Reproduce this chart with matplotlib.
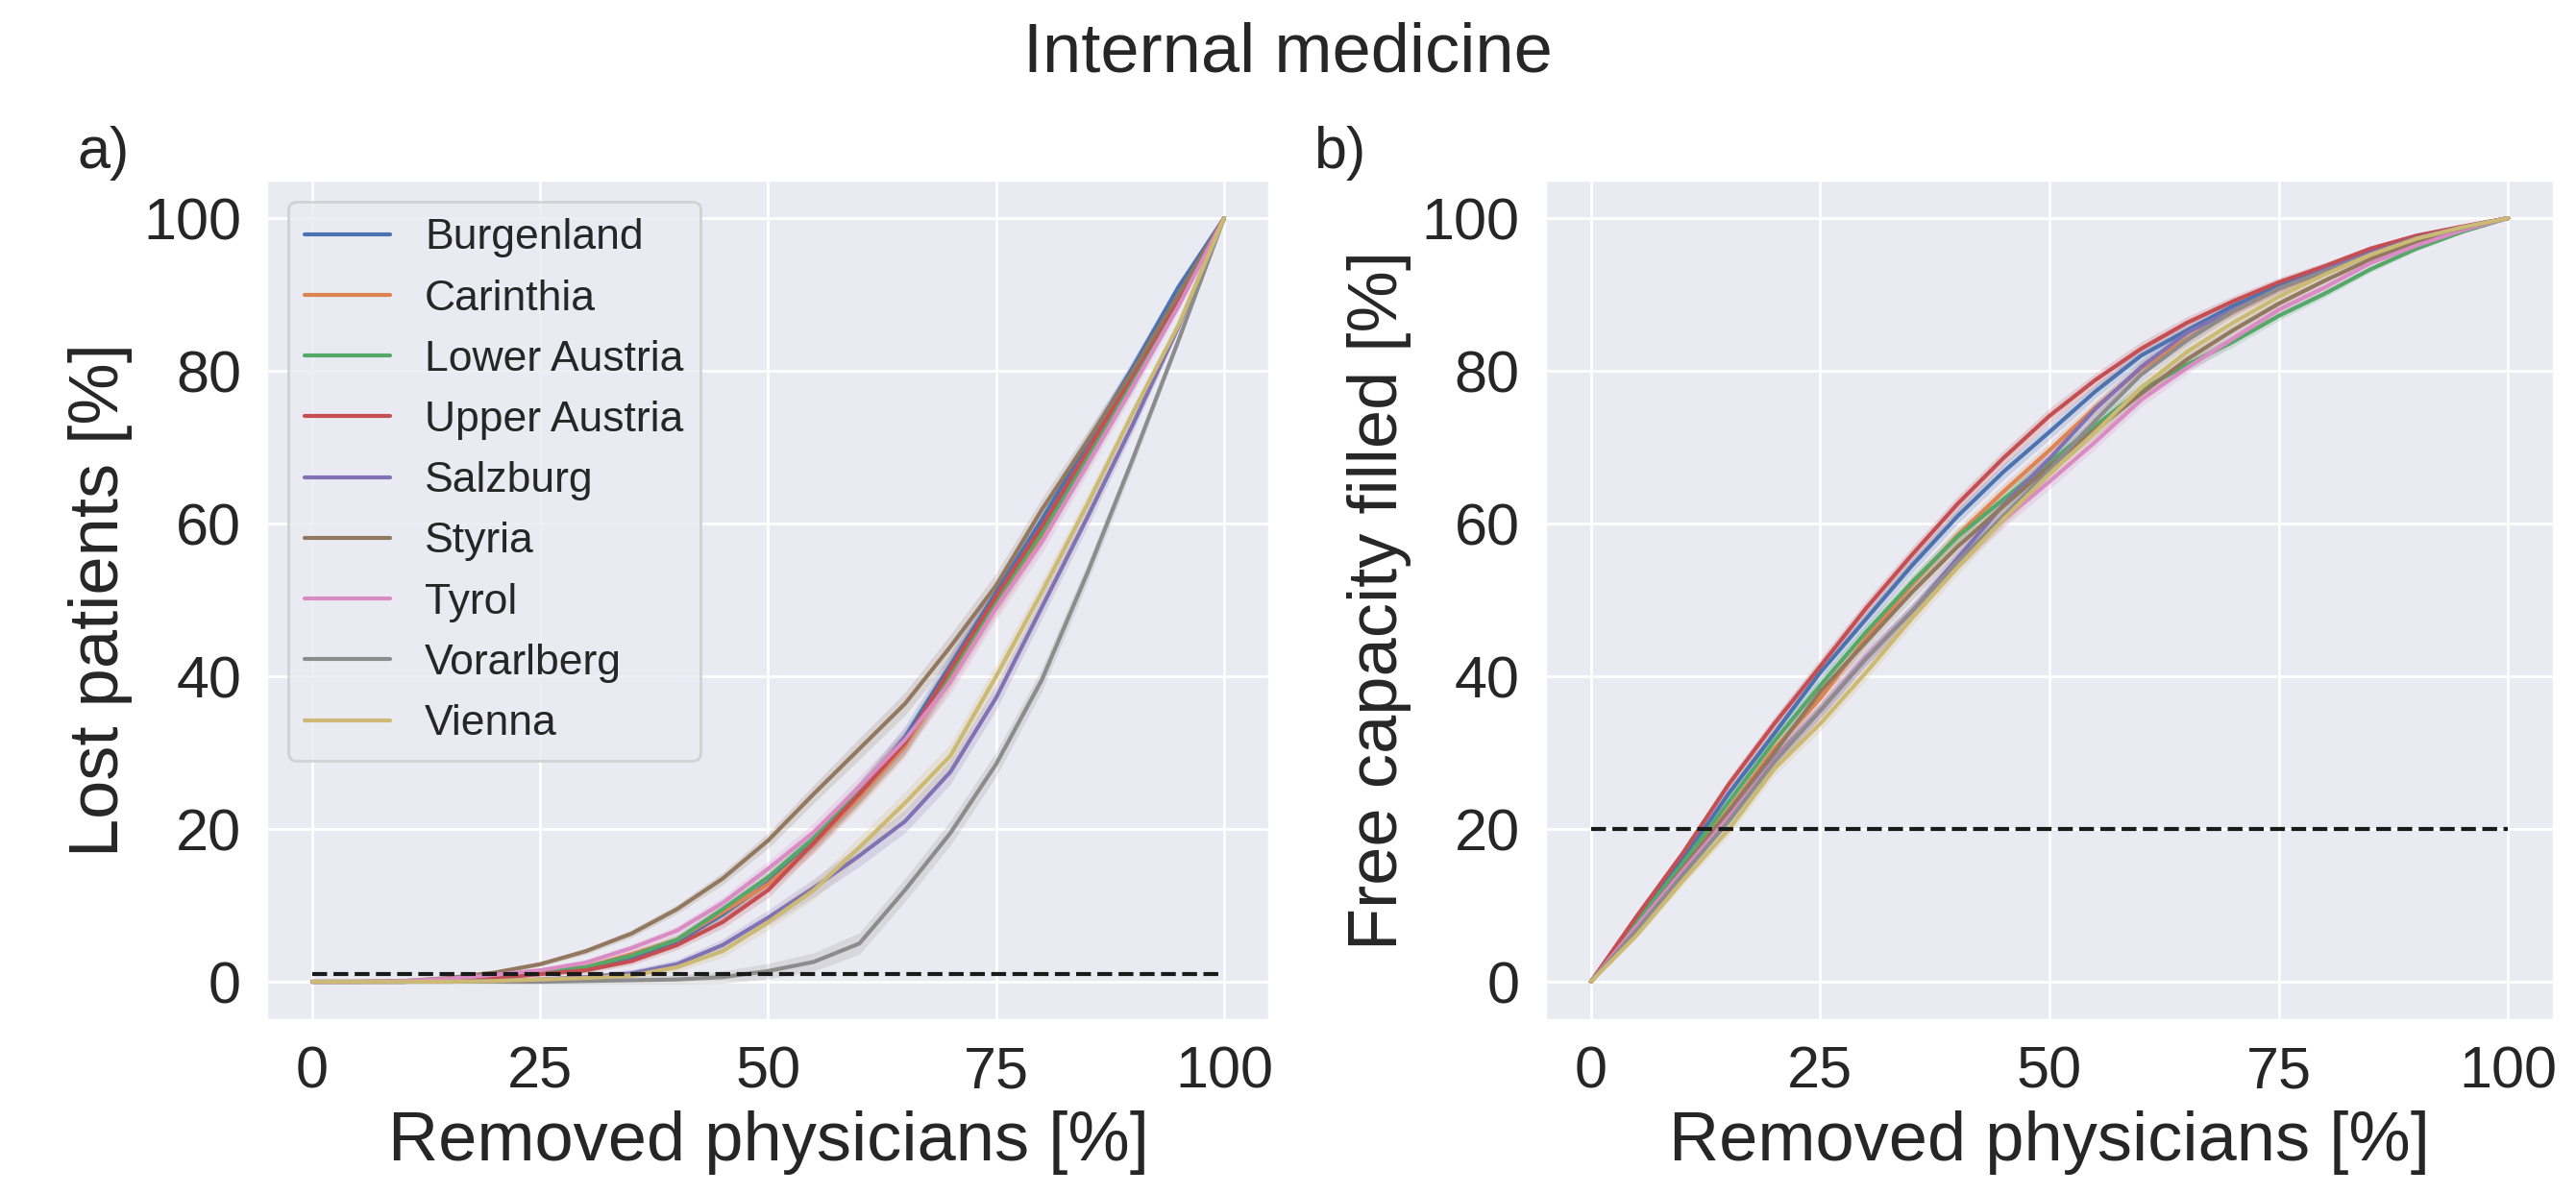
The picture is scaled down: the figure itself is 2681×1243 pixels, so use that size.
import numpy as np
import matplotlib
matplotlib.use("Agg")
import matplotlib.pyplot as plt
import seaborn as sns

# share of removed physicians [%]
removed = [0, 5, 10, 15, 20, 25, 30, 35, 40, 45, 50, 55, 60, 65, 70, 75, 80, 85, 90, 95, 100]

regions = ['Burgenland', 'Carinthia', 'Lower Austria', 'Upper Austria', 'Salzburg',
           'Styria', 'Tyrol', 'Vorarlberg', 'Vienna']

# a) lost patients [%]
lost_burgenland = [0, 0, 0, 0.2, 0.5, 1.1, 1.8, 3.2, 5.2, 8.8, 13.0, 18.5, 24.8, 32.0, 41.5, 51.0, 60.5, 70.5, 80.5, 91.0, 100]
lost_carinthia = [0, 0, 0, 0.2, 0.6, 1.3, 1.9, 3.6, 5.5, 9.1, 12.8, 18.0, 24.2, 30.9, 40.0, 49.5, 58.5, 68.5, 78.5, 89.0, 100]
lost_lower_austria = [0, 0, 0, 0.2, 0.5, 1.2, 1.9, 3.4, 5.5, 9.5, 13.7, 18.8, 24.8, 31.3, 40.5, 50.0, 58.8, 68.5, 78.5, 89.0, 100]
lost_upper_austria = [0, 0, 0, 0.2, 0.5, 1.0, 1.5, 2.7, 4.8, 7.8, 12.0, 18.2, 24.6, 31.3, 41.0, 50.5, 59.6, 69.5, 79.5, 89.5, 100]
lost_salzburg = [0, 0, 0, 0, 0.1, 0.3, 0.6, 1.1, 2.3, 4.8, 8.4, 12.3, 16.5, 21.0, 27.5, 37.2, 49.0, 60.8, 73.0, 85.8, 100]
lost_styria = [0, 0, 0.1, 0.5, 1.2, 2.3, 4.0, 6.3, 9.5, 13.5, 18.5, 24.6, 30.5, 36.4, 43.9, 51.9, 61.8, 70.8, 80.0, 90.0, 100]
lost_tyrol = [0, 0, 0.1, 0.4, 0.9, 1.5, 2.5, 4.4, 6.7, 10.3, 14.8, 19.6, 25.5, 31.7, 39.3, 49.0, 57.6, 67.8, 78.0, 88.5, 100]
lost_vorarlberg = [0, 0, 0, 0, 0, 0, 0.1, 0.2, 0.3, 0.6, 1.4, 2.6, 5.0, 12.0, 19.5, 28.5, 39.5, 53.5, 68.5, 84.0, 100]
lost_vienna = [0, 0, 0, 0, 0.1, 0.3, 0.5, 0.8, 1.9, 4.0, 7.8, 12.0, 17.6, 23.4, 29.6, 40.0, 51.0, 62.5, 74.5, 86.0, 100]
lost_ci = [0, 0, 0, 0.1, 0.2, 0.3, 0.4, 0.5, 0.6, 0.8, 1.0, 1.2, 1.4, 1.5, 1.6, 1.6, 1.5, 1.3, 1.0, 0.6, 0]
lost_threshold = 1

# b) free capacity filled [%]
cap_burgenland = [0, 8.2, 16.0, 24.6, 32.5, 40.5, 47.5, 54.5, 61.0, 66.8, 72.0, 77.3, 82.0, 85.3, 88.5, 91.1, 93.4, 95.6, 97.5, 98.8, 100]
cap_carinthia = [0, 7.5, 15.0, 22.5, 30.5, 37.1, 45.0, 52.0, 58.5, 64.2, 69.6, 75.2, 80.3, 84.2, 87.7, 90.7, 93.0, 95.2, 97.3, 98.7, 100]
cap_lower_austria = [0, 7.8, 15.5, 23.5, 31.5, 38.8, 45.8, 52.3, 58.3, 63.2, 68.0, 72.8, 77.5, 80.8, 83.8, 87.2, 90.1, 93.3, 96.0, 98.2, 100]
cap_upper_austria = [0, 8.6, 16.8, 25.8, 33.8, 41.3, 48.9, 55.9, 62.6, 68.6, 74.1, 78.8, 82.9, 86.3, 89.1, 91.6, 93.7, 96.0, 97.7, 98.9, 100]
cap_salzburg = [0, 7.0, 14.2, 21.5, 29.2, 35.5, 42.5, 48.5, 55.5, 62.5, 68.5, 75.0, 80.5, 85.0, 88.0, 90.8, 93.2, 95.4, 97.4, 98.8, 100]
cap_styria = [0, 7.2, 14.8, 22.3, 30.0, 38.0, 44.5, 51.0, 57.0, 62.3, 67.5, 72.3, 77.0, 81.5, 85.3, 88.8, 91.8, 94.6, 96.9, 98.6, 100]
cap_tyrol = [0, 7.3, 14.5, 21.5, 29.0, 35.5, 42.5, 48.5, 55.0, 60.5, 65.5, 70.7, 76.2, 80.4, 84.2, 88.0, 90.9, 94.1, 96.4, 98.4, 100]
cap_vorarlberg = [0, 6.8, 14.0, 21.0, 28.8, 35.5, 42.3, 48.5, 55.0, 61.0, 67.0, 73.5, 79.5, 84.0, 87.8, 90.8, 93.0, 95.2, 97.3, 98.7, 100]
cap_vienna = [0, 6.1, 13.2, 19.9, 27.9, 33.8, 40.5, 47.6, 54.3, 60.6, 66.5, 72.0, 77.8, 82.5, 86.3, 89.7, 92.6, 95.2, 97.3, 98.8, 100]
cap_ci = [0, 0.4, 0.6, 0.8, 0.9, 1.0, 1.0, 1.0, 1.0, 1.0, 1.0, 0.9, 0.9, 0.8, 0.7, 0.6, 0.5, 0.4, 0.3, 0.2, 0]
cap_threshold = 20

lost = [lost_burgenland, lost_carinthia, lost_lower_austria, lost_upper_austria, lost_salzburg,
        lost_styria, lost_tyrol, lost_vorarlberg, lost_vienna]
cap = [cap_burgenland, cap_carinthia, cap_lower_austria, cap_upper_austria, cap_salzburg,
       cap_styria, cap_tyrol, cap_vorarlberg, cap_vienna]

sns.set_theme(style='darkgrid')
plt.rcParams['font.family'] = ['Liberation Sans', 'DejaVu Sans']
colors = sns.color_palette('deep', len(regions))

fig = plt.figure(figsize=(13.405, 6.215), dpi=200)
ax_a = fig.add_axes([0.1035, 0.1458, 0.3894, 0.7035])
ax_b = fig.add_axes([0.5998, 0.1458, 0.3916, 0.7035])


def draw_panel(ax, series, ci, threshold, ylabel):
    x = np.array(removed)
    band = np.array(ci)
    for name, values, col in zip(regions, series, colors):
        y = np.array(values)
        ax.fill_between(x, y - band, y + band, color=col, alpha=0.2, linewidth=0)
        ax.plot(x, y, color=col, lw=1.5, label=name)
    ax.plot([0, 100], [threshold, threshold], 'k--', lw=1.5)
    ax.set_xlim(-5, 105)
    ax.set_ylim(-5, 105)
    ax.set_xticks([0, 25, 50, 75, 100])
    ax.set_yticks([0, 20, 40, 60, 80, 100])
    ax.tick_params(labelsize=22)
    ax.set_xlabel('Removed physicians [%]', fontsize=26)
    ax.set_ylabel(ylabel, fontsize=26)


draw_panel(ax_a, lost, lost_ci, lost_threshold, 'Lost patients [%]')
draw_panel(ax_b, cap, cap_ci, cap_threshold, 'Free capacity filled [%]')
ax_a.legend(loc='upper left', fontsize=16)

fig.text(0.5, 0.94, 'Internal medicine', ha='center', va='baseline', fontsize=26)
fig.text(0.030, 0.859, 'a)', ha='left', va='baseline', fontsize=22)
fig.text(0.510, 0.859, 'b)', ha='left', va='baseline', fontsize=22)

fig.savefig('out.png', dpi=200)
